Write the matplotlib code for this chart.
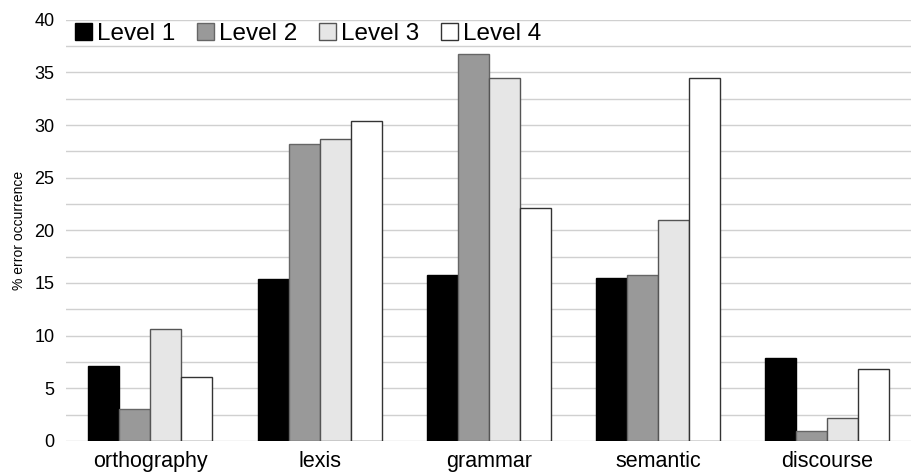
import numpy as np
import matplotlib.pyplot as plt
from matplotlib.ticker import MultipleLocator

plt.rcParams['font.family'] = ['Liberation Sans', 'DejaVu Sans']

categorias = ["orthography", "lexis", "grammar", "semantic", "discourse"]
niveis = ["Level 1", "Level 2", "Level 3", "Level 4"]
level1 = [7.1, 15.4, 15.8, 15.5, 7.9]
level2 = [3.0, 28.2, 36.8, 15.8, 0.9]
level3 = [10.6, 28.7, 34.5, 21.0, 2.2]
level4 = [6.1, 30.4, 22.1, 34.5, 6.8]

valores = [level1, level2, level3, level4]
cores = ["#000000", "#999999", "#e6e6e6", "#ffffff"]
bordas = ["#000000", "#666666", "#555555", "#333333"]

fig = plt.figure(figsize=(9.12, 4.73), dpi=100)
ax = fig.add_axes([0.072, 0.068, 0.928, 0.890])

x = np.arange(len(categorias))
w = 0.183
for i in range(len(niveis)):
    ax.bar(x + (i - 1.5) * w, valores[i], w, color=cores[i], edgecolor=bordas[i],
           linewidth=1.0, label=niveis[i], zorder=3)

ax.set_xlim(-0.5, 4.5)
ax.set_ylim(0, 40)
ax.yaxis.set_major_locator(MultipleLocator(5))
ax.yaxis.set_minor_locator(MultipleLocator(2.5))
ax.grid(axis='y', which='both', color='#d0d0d0', linewidth=1.0, zorder=0)
ax.set_xticks(x)
ax.set_xticklabels(categorias, fontsize=15.5)
ax.tick_params(axis='x', length=0, pad=7)
ax.tick_params(axis='y', which='both', length=0, labelsize=13, pad=8)
for s in ax.spines.values():
    s.set_visible(False)
ax.set_ylabel("% error occurrence", fontsize=10, labelpad=6)

leg = ax.legend(loc='upper left', bbox_to_anchor=(-0.006, 1.027), ncol=4, frameon=False,
                fontsize=17.5, handlelength=0.7, handleheight=0.7, handletextpad=0.2,
                columnspacing=0.9, borderaxespad=0.2)

fig.savefig("out.png", dpi=100)
